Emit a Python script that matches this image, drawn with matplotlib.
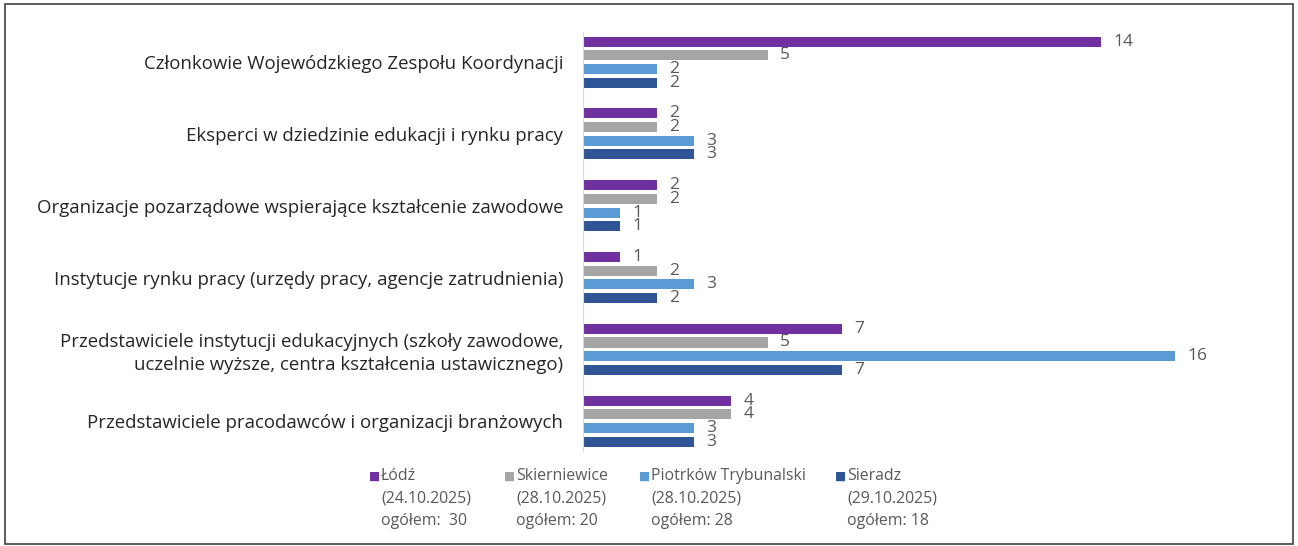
import numpy as np
import matplotlib.pyplot as plt
from matplotlib.patches import Rectangle

plt.rcParams['font.family'] = ['Open Sans', 'DejaVu Sans']

# dane
categories = [
    'Członkowie Wojewódzkiego Zespołu Koordynacji',
    'Eksperci w dziedzinie edukacji i rynku pracy',
    'Organizacje pozarządowe wspierające kształcenie zawodowe',
    'Instytucje rynku pracy (urzędy pracy, agencje zatrudnienia)',
    'Przedstawiciele instytucji edukacyjnych (szkoły zawodowe,\nuczelnie wyższe, centra kształcenia ustawicznego)',
    'Przedstawiciele pracodawców i organizacji branżowych',
]
lodz = [14, 2, 2, 1, 7, 4]
skierniewice = [5, 2, 2, 2, 5, 4]
piotrkow = [2, 3, 1, 3, 16, 3]
sieradz = [2, 3, 1, 2, 7, 3]

series_names = ['Łódź', 'Skierniewice', 'Piotrków Trybunalski', 'Sieradz']
series_dates = ['(24.10.2025)', '(28.10.2025)', '(28.10.2025)', '(29.10.2025)']
series_totals = ['ogółem:  30', 'ogółem: 20', 'ogółem: 28', 'ogółem: 18']
colors = ['#7030A0', '#A5A5A5', '#5B9BD5', '#2F5597']

fig = plt.figure(figsize=(12.98, 5.46), dpi=100)
ax = fig.add_axes([0.449, 0.163, 0.456, 0.789])

y = np.arange(len(categories))
slot = 0.19
bh = 0.14
for i, vals in enumerate([lodz, skierniewice, piotrkow, sieradz]):
    pos = y + (i - 1.5) * slot
    bars = ax.barh(pos, vals, height=bh, color=colors[i])
    ax.bar_label(bars, padding=9, fontsize=12.5, color='#595959')

ax.set_xlim(0, 16)
ax.set_ylim(len(categories) - 0.5, -0.5)
ax.set_yticks(y)
ax.set_yticklabels(categories, fontsize=13.4, color='#262626', linespacing=1.3)
ax.tick_params(axis='y', length=0, pad=14)
ax.set_xticks([])
for s in ['top', 'right', 'bottom']:
    ax.spines[s].set_visible(False)
ax.spines['left'].set_color('#D9D9D9')
ax.spines['left'].set_bounds(-0.42, 5.42)

# legenda
leg_x = [369, 504, 639, 835]
for i in range(4):
    x0 = leg_x[i] / 1298
    fig.text(x0, 1 - 476 / 546, '■', color=colors[i], fontsize=8.5,
             va='center', ha='left', family='DejaVu Sans')
    for j, t in enumerate([series_names[i], series_dates[i], series_totals[i]]):
        fig.text(x0 + 12 / 1298, 1 - (476 + j * 22.5) / 546, t, fontsize=11.4,
                 color='#595959', va='center', ha='left')

fig.patches.append(Rectangle((0.004, 0.003), 0.992, 0.99, transform=fig.transFigure,
                             fill=False, edgecolor='#404040', linewidth=1.2))

fig.savefig('out.png', dpi=100)
